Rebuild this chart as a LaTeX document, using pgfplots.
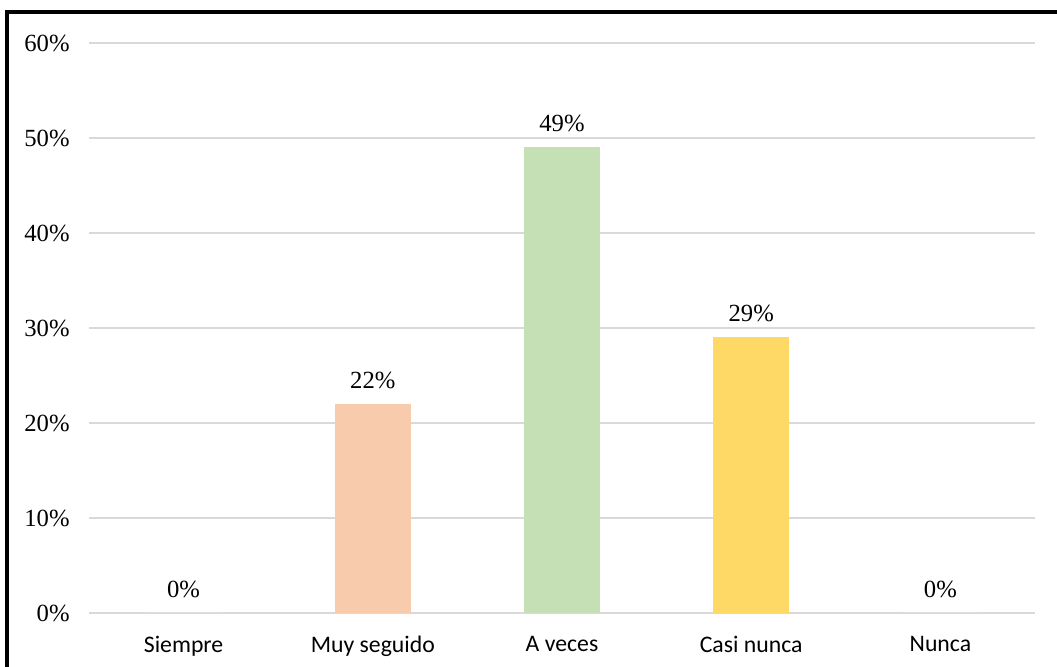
\documentclass[border=0pt]{standalone}
\usepackage{pgfplots}
\pgfplotsset{compat=1.18}
\usepackage{fontspec}
\setmainfont{Liberation Serif}
\newfontfamily\calibri{Carlito}
\definecolor{cMuy}{HTML}{F8CBAD}
\definecolor{cVeces}{HTML}{C5E0B4}
\definecolor{cCasi}{HTML}{FFD966}
\definecolor{cGrid}{HTML}{D9D9D9}
\begin{document}
\begin{tikzpicture}[x=1pt,y=1pt]
\useasboundingbox (0,0) rectangle (792.75,500.25);
\begin{axis}[
  at={(66.75pt,40.5pt)}, anchor=south west,
  scale only axis, width=709.5pt, height=427.5pt,
  xmin=-0.5, xmax=4.5, ymin=0, ymax=60,
  axis line style={draw=none},
  major tick length=0pt,
  /pgf/number format/assume math mode=true,
  ytick={0,10,20,30,40,50,60},
  yticklabels={0\%,10\%,20\%,30\%,40\%,50\%,60\%},
  xtick={0,1,2,3,4},
  xticklabels={Siempre,Muy seguido,A veces,Casi nunca,Nunca},
  x tick label style={font=\calibri\fontsize{17.8}{20}\selectfont, yshift=-14pt},
  y tick label style={font=\fontsize{18.5}{21}\selectfont, xshift=-11pt},
  ymajorgrids, grid style={cGrid, line width=1.1pt},
  ybar, bar width=57pt, bar shift=0pt,
  nodes near coords={\pgfmathprintnumber{\pgfplotspointmeta}\%},
  nodes near coords style={font=\fontsize{18.5}{21}\selectfont, black, yshift=8pt},
  clip=false,
]
\addplot[fill=white, draw=none] coordinates {(0,0)};
\addplot[fill=cMuy, draw=none] coordinates {(1,22)};
\addplot[fill=cVeces, draw=none] coordinates {(2,49)};
\addplot[fill=cCasi, draw=none] coordinates {(3,29)};
\addplot[fill=white, draw=none] coordinates {(4,0)};
\end{axis}
\draw[line width=2.3pt, black] (5.25,0) -- (5.25,491.25) -- (792.75,491.25);
\end{tikzpicture}
\end{document}
